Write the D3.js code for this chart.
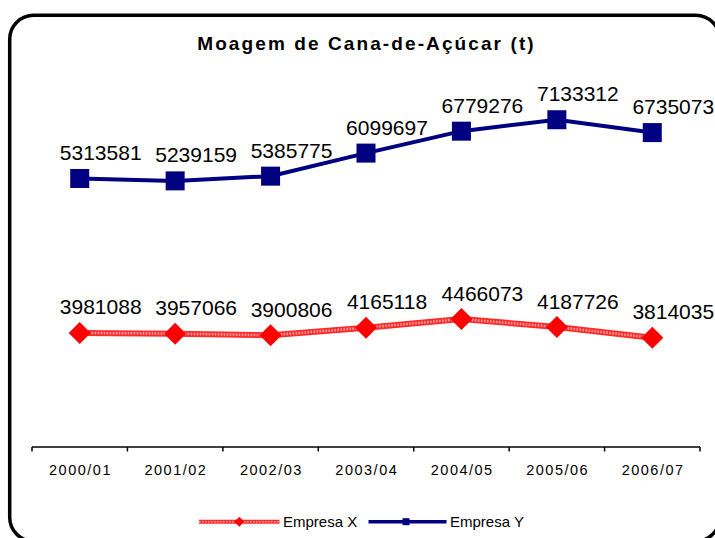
<!DOCTYPE html>
<html>
<head>
<meta charset="utf-8">
<script src="https://cdn.jsdelivr.net/npm/d3@7"></script>
<style>
  html, body { margin: 0; padding: 0; background: #fff; }
  svg { display: block; }
  text { font-family: Arial, "Liberation Sans", sans-serif; fill: #000; }
</style>
</head>
<body>
<svg id="chart" width="715" height="538"></svg>
<script>
const title = "Moagem de Cana-de-Açúcar (t)";
const categories = ["2000/01", "2001/02", "2002/03", "2003/04", "2004/05", "2005/06", "2006/07"];
const empresaX = [3981088, 3957066, 3900806, 4165118, 4466073, 4187726, 3814035];
const empresaY = [5313581, 5239159, 5385775, 6099697, 6779276, 7133312, 6735073];
const seriesNames = ["Empresa X", "Empresa Y"];

const svg = d3.select("#chart");

// outer rounded frame
svg.append("rect")
  .attr("x", 9.7).attr("y", 15.3)
  .attr("width", 710).attr("height", 526)
  .attr("rx", 24).attr("ry", 24)
  .attr("fill", "#fff").attr("stroke", "#000").attr("stroke-width", 3.5);

// title
svg.append("text")
  .attr("x", 366.5).attr("y", 50)
  .attr("text-anchor", "middle")
  .style("font-size", "19px").style("font-weight", "bold")
  .style("letter-spacing", "2.1px")
  .text(title);

const x = d3.scaleBand().domain(categories).range([32, 700]);
const cx = d => x(d) + x.bandwidth() / 2;
const yX = d3.scaleLinear().domain([0, 10e6]).range([447, 160.5]);
const yY = d3.scaleLinear().domain([5e6, 7.5e6]).range([188.6, 107.9]);

// x axis
const axisY = 447;
const axis = svg.append("g").attr("transform", `translate(0,${axisY})`)
  .call(d3.axisBottom(x).tickSize(0).tickPadding(0));
axis.select(".domain").remove();
axis.selectAll("text")
  .attr("y", 28).attr("dy", 0)
  .style("font-size", "14.5px").style("letter-spacing", "1.5px")
  .attr("dx", "0.8")
  .attr("font-family", null);
svg.append("line")
  .attr("x1", x.range()[0]).attr("x2", x.range()[1])
  .attr("y1", axisY).attr("y2", axisY)
  .attr("stroke", "#000").attr("stroke-width", 1.5);
const boundaries = categories.map(c => x(c)).concat([x.range()[1]]);
svg.selectAll("line.tick-b").data(boundaries).enter().append("line")
  .attr("class", "tick-b")
  .attr("x1", d => d).attr("x2", d => d)
  .attr("y1", axisY).attr("y2", axisY + 4.5)
  .attr("stroke", "#000").attr("stroke-width", 1.5);

// Empresa Y line (navy, squares)
const lineY = d3.line().x((d, i) => cx(categories[i])).y(d => yY(d));
svg.append("path").datum(empresaY)
  .attr("d", lineY).attr("fill", "none")
  .attr("stroke", "#000080").attr("stroke-width", 4);
svg.selectAll("rect.mY").data(empresaY).enter().append("rect")
  .attr("class", "mY")
  .attr("x", (d, i) => cx(categories[i]) - 9.5)
  .attr("y", d => yY(d) - 9.5)
  .attr("width", 19).attr("height", 19)
  .attr("fill", "#000080");
svg.selectAll("text.lY").data(empresaY).enter().append("text")
  .attr("class", "lY")
  .attr("x", (d, i) => cx(categories[i]) + 21)
  .attr("y", d => yY(d) - 18.5)
  .attr("text-anchor", "middle")
  .style("font-size", "21px")
  .text(d => d);

// Empresa X line (red, patterned, diamonds)
const lineX = d3.line().x((d, i) => cx(categories[i])).y(d => yX(d));
svg.append("path").datum(empresaX)
  .attr("d", lineX).attr("fill", "none")
  .attr("stroke", "#ff2a2a").attr("stroke-width", 6);
svg.append("path").datum(empresaX)
  .attr("d", lineX).attr("fill", "none")
  .attr("stroke", "#ffa8a8").attr("stroke-width", 2.5)
  .attr("stroke-dasharray", "1.5,1.5");
const diamond = s => `M0,${-s}L${s},0L0,${s}L${-s},0Z`;
svg.selectAll("path.mX").data(empresaX).enter().append("path")
  .attr("class", "mX")
  .attr("d", diamond(11))
  .attr("transform", (d, i) => `translate(${cx(categories[i])},${yX(d)})`)
  .attr("fill", "#ff0000");
svg.selectAll("text.lX").data(empresaX).enter().append("text")
  .attr("class", "lX")
  .attr("x", (d, i) => cx(categories[i]) + 21)
  .attr("y", d => yX(d) - 18.5)
  .attr("text-anchor", "middle")
  .style("font-size", "21px")
  .text(d => d);

// legend
const ly = 521.7;
const lg = svg.append("g");
lg.append("line").attr("x1", 199).attr("x2", 279.5).attr("y1", ly).attr("y2", ly)
  .attr("stroke", "#ff2a2a").attr("stroke-width", 4);
lg.append("line").attr("x1", 199).attr("x2", 279.5).attr("y1", ly).attr("y2", ly)
  .attr("stroke", "#ffa8a8").attr("stroke-width", 1.5).attr("stroke-dasharray", "1.5,1.5");
lg.append("path").attr("d", diamond(5)).attr("transform", `translate(239.3,${ly})`).attr("fill", "#ff0000");
lg.append("text").attr("x", 283).attr("y", ly + 5.5)
  .style("font-size", "15px").text(seriesNames[0]);
lg.append("line").attr("x1", 368.5).attr("x2", 446.5).attr("y1", ly).attr("y2", ly)
  .attr("stroke", "#000080").attr("stroke-width", 3.5);
lg.append("rect").attr("x", 402.5).attr("y", ly - 3.5).attr("width", 7).attr("height", 7).attr("fill", "#000080");
lg.append("text").attr("x", 450).attr("y", ly + 5.5)
  .style("font-size", "15px").text(seriesNames[1]);
</script>
</body>
</html>
